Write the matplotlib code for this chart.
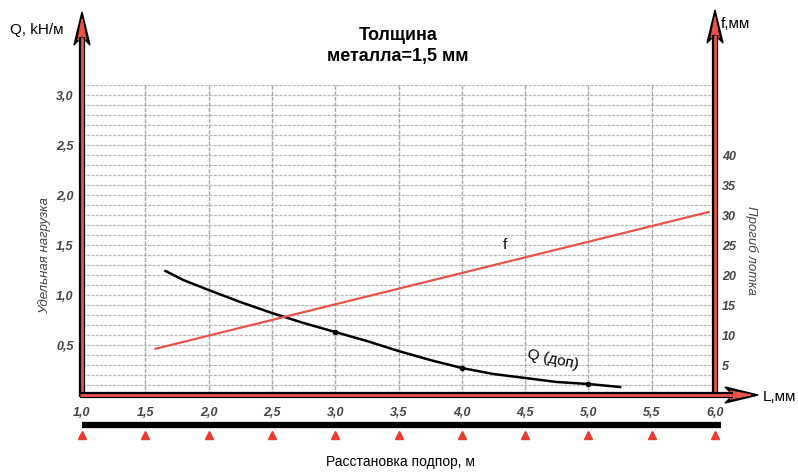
import matplotlib.pyplot as plt
import numpy as np
from matplotlib.patches import Polygon
from matplotlib.lines import Line2D
from matplotlib.transforms import IdentityTransform

plt.rcParams['font.family'] = ['Liberation Sans', 'DejaVu Sans']

# допустимая нагрузка Q, кН/м
q_span = [1.66, 1.8, 2.0, 2.25, 2.5, 2.75, 3.0, 3.25, 3.5, 3.75, 4.0, 4.25, 4.5, 4.75, 5.0, 5.25]
q_load = [1.24, 1.15, 1.05, 0.93, 0.82, 0.72, 0.63, 0.54, 0.44, 0.35, 0.27, 0.21, 0.17, 0.13, 0.11, 0.08]
q_dot_span = [3.0, 4.0, 5.0]
q_dot_load = [0.63, 0.27, 0.11]
# прогиб f, мм
f_span = [1.58, 5.95]
f_defl = [7.7, 30.5]

supports = [1.0, 1.5, 2.0, 2.5, 3.0, 3.5, 4.0, 4.5, 5.0, 5.5, 6.0]
x_labels = ['1,0', '1,5', '2,0', '2,5', '3,0', '3,5', '4,0', '4,5', '5,0', '5,5', '6,0']
q_ticks = [0.5, 1.0, 1.5, 2.0, 2.5, 3.0]
q_labels = ['0,5', '1,0', '1,5', '2,0', '2,5', '3,0']
f_ticks = [5, 10, 15, 20, 25, 30, 35, 40]

W, H = 798, 472
fig = plt.figure(figsize=(W / 100, H / 100), dpi=100)
ax = fig.add_axes([82 / W, (H - 395) / H, (715 - 82) / W, (395 - 85) / H])
ax.set_xlim(1.0, 6.0)
ax.set_ylim(0, 3.1)
ax2 = ax.twinx()
ax2.set_ylim(0, 3.1 / 0.06)

for a in (ax, ax2):
    for s in a.spines.values():
        s.set_visible(False)

# сетка
for y in np.arange(0.1, 3.15, 0.1):
    ax.axhline(y, color='#b8b8b8', lw=0.9, ls=(0, (2.5, 1)), zorder=0)
for x in supports[1:-1]:
    ax.axvline(x, color='#a8a8a8', lw=1.0, ls=(0, (3, 1)), zorder=0)

tick_font = dict(fontsize=9, fontstyle='italic', fontweight='bold', color='#444444')
ax.set_xticks(supports)
ax.set_xticklabels(x_labels, **tick_font)
ax.set_yticks(q_ticks)
ax.set_yticklabels(q_labels, **tick_font)
ax.tick_params(axis='x', length=0, pad=9)
ax.tick_params(axis='y', length=0, pad=6)
ax2.set_yticks(f_ticks)
ax2.set_yticklabels([str(t) for t in f_ticks], **tick_font)
ax2.tick_params(axis='y', length=0, pad=5)

# кривые
ax.plot(q_span, q_load, color='black', lw=1.8, zorder=3)
ax.plot(q_dot_span, q_dot_load, 'o', color='black', ms=3, zorder=4)
ax2.plot(f_span, f_defl, color='#e8534a', lw=1.6, zorder=3)
ax2.text(4.34, 25.0, 'f', fontsize=11, ha='center', va='center')
ax.text(4.72, 0.35, 'Q (доп)', fontsize=11, ha='center', va='center', rotation=-12)

# подпоры
xt = ax.get_xaxis_transform()
ax.plot([1.0, 6.05], [-0.097, -0.097], color='black', lw=4.5, transform=xt,
        clip_on=False, solid_capstyle='butt')
ax.plot(supports, [-0.128] * len(supports), '^', color='#e83a30', ms=6,
        transform=xt, clip_on=False)

# оси со стрелками (в пикселях)
ident = IdentityTransform()


def axis_arrow(p0, p1, head=33, half=8):
    p0, p1 = np.array(p0, float), np.array(p1, float)
    d = (p1 - p0) / np.linalg.norm(p1 - p0)
    n = np.array([-d[1], d[0]])
    base = p1 - d * head * 0.75
    fig.add_artist(Line2D([p0[0], base[0]], [p0[1], base[1]], color='black',
                          lw=4.5, transform=ident, solid_capstyle='butt'))
    fig.add_artist(Line2D([p0[0], base[0]], [p0[1], base[1]], color='#e8534a',
                          lw=2.0, transform=ident, solid_capstyle='butt'))
    outer = [p1, p1 - d * head + n * half, p1 - d * head * 0.75, p1 - d * head - n * half]
    fig.add_artist(Polygon(outer, closed=True, color='black', transform=ident))
    inner = [p1 - d * 7, p1 - d * (head - 5) + n * (half - 4),
             p1 - d * head * 0.7, p1 - d * (head - 5) - n * (half - 4)]
    fig.add_artist(Polygon(inner, closed=True, color='#e8534a', transform=ident))


x0, y0 = ax.transData.transform((1.0, 0.0))
x1, _ = ax.transData.transform((6.0, 0.0))
axis_arrow((x0, y0 - 2), (x0, H - 12))
axis_arrow((x1, y0 - 2), (x1, H - 10))
axis_arrow((x0 - 2, y0), (758, y0))

# подписи
fig.text(10 / W, 1 - 30 / H, 'Q, kH/м', fontsize=11, va='center')
fig.text(721 / W, 1 - 24 / H, 'f,мм', fontsize=11, va='center')
fig.text(763 / W, 1 - 397 / H, 'L,мм', fontsize=11, va='center')
fig.text(398 / W, 1 - 46 / H, 'Толщина\nметалла=1,5 мм', fontsize=13,
         fontweight='bold', ha='center', va='center', linespacing=1.35)
fig.text(45 / W, 1 - 256 / H, 'Удельная нагрузка', fontsize=9.5, fontstyle='italic',
         color='#444444', rotation=90, ha='center', va='center')
fig.text(751 / W, 1 - 250 / H, 'Прогиб лотка', fontsize=9.5, fontstyle='italic',
         color='#444444', rotation=-90, ha='center', va='center')
fig.text(400 / W, 1 - 462 / H, 'Расстановка подпор, м', fontsize=10,
         ha='center', va='center')

fig.savefig('out.png', dpi=100)
